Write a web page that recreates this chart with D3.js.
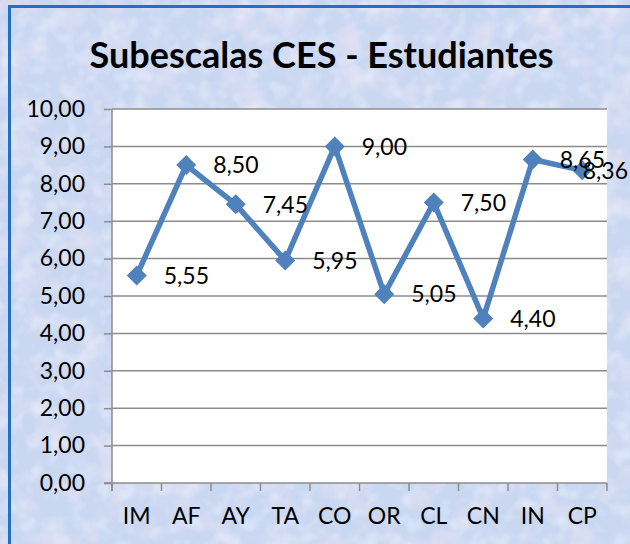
<!DOCTYPE html>
<html>
  <head>
    <style>
      body { margin: 0; background: #fff; font-family: "Lato", sans-serif; }
    </style>
  </head>
<body>
  <div id="chart"></div>
  <script src="https://d3js.org/d3.v7.min.js"></script>
  <script>
    var categories = ["IM", "AF", "AY", "TA", "CO", "OR", "CL", "CN", "IN", "CP"];
    var values = [5.55, 8.50, 7.45, 5.95, 9.00, 5.05, 7.50, 4.40, 8.65, 8.36];
    var yTicks = [0, 1, 2, 3, 4, 5, 6, 7, 8, 9, 10];
    var title = "Subescalas CES - Estudiantes";

    var W = 630, H = 544;
    var plot = {left: 112, right: 607, top: 109, bottom: 483};
    var fmt = function (v) { return v.toFixed(2).replace(".", ","); };

    var svg = d3.select("#chart").append("svg")
      .attr("width", W).attr("height", H);

    // textured background (rough stand-in for the Excel texture fill)
    var defs = svg.append("defs");
    var f = defs.append("filter").attr("id", "tex")
      .attr("x", 0).attr("y", 0).attr("width", "100%").attr("height", "100%");
    f.append("feTurbulence").attr("type", "fractalNoise")
      .attr("baseFrequency", 0.03).attr("numOctaves", 3).attr("seed", 7).attr("result", "n");
    f.append("feColorMatrix").attr("in", "n").attr("type", "matrix")
      .attr("values", "0 0 0 0 0.91  0 0 0 0 0.80  0 0 0 0 0.93  1.6 0 0 0 -0.72");
    var g2 = defs.append("filter").attr("id", "tex2")
      .attr("x", 0).attr("y", 0).attr("width", "100%").attr("height", "100%");
    g2.append("feTurbulence").attr("type", "fractalNoise")
      .attr("baseFrequency", 0.06).attr("numOctaves", 2).attr("seed", 3).attr("result", "n");
    g2.append("feColorMatrix").attr("in", "n").attr("type", "matrix")
      .attr("values", "0 0 0 0 0.86  0 0 0 0 0.92  0 0 0 0 0.99  0 1.8 0 0 -0.85");

    svg.append("rect").attr("width", W).attr("height", H).attr("fill", "#c9d7f1");
    svg.append("rect").attr("width", W).attr("height", H).attr("filter", "url(#tex)").attr("opacity", 0.85);
    svg.append("rect").attr("width", W).attr("height", H).attr("filter", "url(#tex2)").attr("opacity", 0.7);

    // chart border
    svg.append("rect")
      .attr("x", 9.5).attr("y", 6.5).attr("width", 640).attr("height", 560)
      .attr("fill", "none").attr("stroke", "#1f70c6").attr("stroke-width", 3);

    svg.append("text")
      .attr("x", 321.5).attr("y", 68)
      .attr("text-anchor", "middle")
      .style("font-weight", "bold").style("font-size", "36px")
      .attr("fill", "#000")
      .text(title);

    var x = d3.scaleBand().domain(categories).range([plot.left, plot.right]);
    var y = d3.scaleLinear().domain([0, 10]).range([plot.bottom, plot.top]);

    svg.append("rect")
      .attr("x", plot.left).attr("y", plot.top)
      .attr("width", plot.right - plot.left).attr("height", plot.bottom - plot.top)
      .attr("fill", "#fff");

    // gridlines
    svg.append("g").selectAll("line").data(yTicks.slice(1)).enter().append("line")
      .attr("x1", plot.left).attr("x2", plot.right)
      .attr("y1", function (d) { return y(d); }).attr("y2", function (d) { return y(d); })
      .attr("stroke", "#8c8c8c").attr("stroke-width", 1.5);

    // y axis
    var yAxis = svg.append("g")
      .attr("transform", "translate(" + plot.left + ",0)")
      .call(d3.axisLeft(y).tickValues(yTicks).tickSize(8).tickPadding(19).tickFormat(fmt));
    // x axis
    var xAxis = svg.append("g")
      .attr("transform", "translate(0," + plot.bottom + ")")
      .call(d3.axisBottom(x).tickSize(0).tickPadding(25));
    var xt = [plot.left].concat(categories.map(function (c) { return x(c) + x.bandwidth(); }));
    xAxis.selectAll(".cat-tick").data(xt).enter().append("line")
      .attr("x1", function (d) { return d; }).attr("x2", function (d) { return d; })
      .attr("y1", 0).attr("y2", 8)
      .attr("stroke", "#8c8c8c").attr("stroke-width", 1.5);

    [yAxis, xAxis].forEach(function (a) {
      a.select(".domain").attr("stroke", "#8c8c8c").attr("stroke-width", 1.5);
      a.selectAll(".tick line").attr("stroke", "#8c8c8c").attr("stroke-width", 1.5);
      a.selectAll("text").style("font-family", "Lato").style("font-size", "23px").attr("fill", "#000");
    });
    xAxis.select(".domain").attr("d", "M" + (plot.left - 8) + ",0H" + plot.right);
    yAxis.select(".domain").attr("d", "M0," + plot.top + "V" + (plot.bottom + 8));

    // series
    var cx = function (d, i) { return x(categories[i]) + x.bandwidth() / 2; };
    var line = d3.line().x(cx).y(function (d) { return y(d); });
    svg.append("path").datum(values)
      .attr("d", line).attr("fill", "none")
      .attr("stroke", "#4f81bd").attr("stroke-width", 5.5).attr("stroke-linejoin", "round");

    svg.append("g").selectAll("path").data(values).enter().append("path")
      .attr("d", "M0,-10L10,0L0,10L-10,0Z")
      .attr("transform", function (d, i) { return "translate(" + cx(d, i) + "," + y(d) + ")"; })
      .attr("fill", "#4f81bd");

    // data labels, pushed back inside the chart edge like Excel does
    svg.append("g").selectAll("text").data(values).enter().append("text")
      .attr("x", function (d, i) { return cx(d, i) + 27; })
      .attr("y", function (d) { return y(d); })
      .attr("dy", "0.36em")
      .style("font-size", "23px").attr("fill", "#000")
      .text(fmt)
      .each(function () {
        var w = this.getComputedTextLength();
        var xx = +d3.select(this).attr("x");
        if (xx + w > W - 2) d3.select(this).attr("x", W - 2 - w);
      });
  </script>
</body>
</html>
